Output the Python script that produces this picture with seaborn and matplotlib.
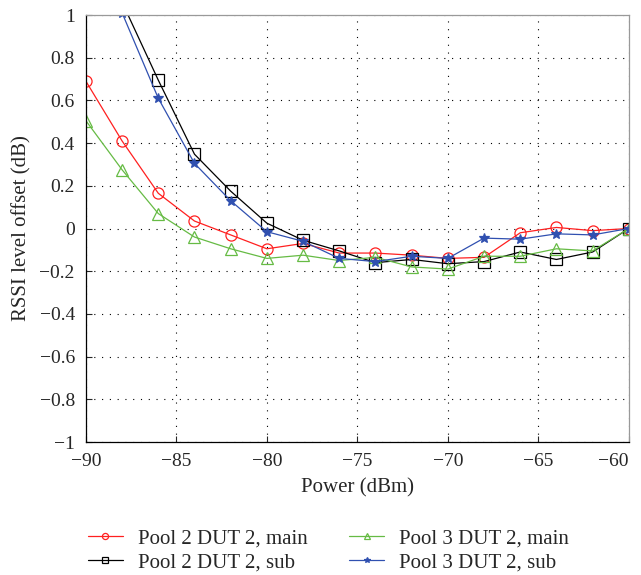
import seaborn as sns
import matplotlib.pyplot as plt
import pandas as pd

sns.set_style("ticks")
plt.rcParams['font.family'] = ['Liberation Serif', 'DejaVu Serif']

power = [-90, -88, -86, -84, -82, -80, -78, -76, -74, -72, -70, -68, -66, -64, -62, -60]

p2_main = [0.69, 0.41, 0.165, 0.035, -0.03, -0.095, -0.07, -0.115, -0.115, -0.125, -0.14,
           -0.135, -0.02, 0.005, -0.01, 0.0]
p2_sub = [1.6, 1.06, 0.695, 0.348, 0.175, 0.025, -0.055, -0.105, -0.16, -0.145, -0.165,
          -0.155, -0.11, -0.145, -0.11, 0.0]
p3_main = [0.505, 0.275, 0.07, -0.04, -0.095, -0.14, -0.125, -0.15, -0.135, -0.18, -0.19,
           -0.13, -0.13, -0.095, -0.105, 0.0]
p3_sub = [1.5, 1.01, 0.61, 0.305, 0.13, -0.015, -0.06, -0.14, -0.155, -0.13, -0.14,
          -0.045, -0.05, -0.025, -0.03, 0.0]

series = {
    "Pool 2 DUT 2, main": (p2_main, "#ff2020", "o"),
    "Pool 2 DUT 2, sub": (p2_sub, "black", "s"),
    "Pool 3 DUT 2, main": (p3_main, "#66bb44", "^"),
    "Pool 3 DUT 2, sub": (p3_sub, "#3050b0", "*"),
}

fig = plt.figure(figsize=(6.41, 5.75), dpi=100)
ax = fig.add_axes([0.134, 0.2313, 0.847, 0.7426])

for name, (vals, col, mk) in series.items():
    df = pd.DataFrame({"Power": power, "Offset": vals})
    filled = mk == "*"
    sns.lineplot(data=df, x="Power", y="Offset", ax=ax, color=col, marker=mk,
                 markersize=8 if not filled else 7, linewidth=0.9,
                 markerfacecolor=col if filled else "none",
                 markeredgecolor=col, markeredgewidth=0.9, label=name)

ax.set_xlim(-90, -60)
ax.set_ylim(-1, 1)
xt = [-90, -85, -80, -75, -70, -65, -60]
yt = [-1, -0.8, -0.6, -0.4, -0.2, 0, 0.2, 0.4, 0.6, 0.8, 1]
ax.set_xticks(xt)
ax.set_xticklabels([str(v).replace("-", "\u2212") for v in xt])
ax.get_xticklabels()[-1].set_horizontalalignment("right")
ax.set_yticks(yt)
ax.set_yticklabels([("%g" % v).replace("-", "\u2212") for v in yt])
ax.tick_params(direction="in", labelsize=14, length=4, width=0.8)
ax.tick_params(axis="x", pad=8)
ax.tick_params(axis="y", pad=8)
ax.grid(True, color="black", linestyle=(0, (1, 6)), linewidth=0.8)
for side, s in ax.spines.items():
    s.set_linewidth(0.9)
    s.set_color("black" if side in ("left", "bottom") else "#999999")
ax.set_xlabel("Power (dBm)", fontsize=15, labelpad=6)
ax.set_ylabel("RSSI level offset (dB)", fontsize=15, labelpad=6)

h, l = ax.get_legend_handles_labels()
ax.get_legend().remove()
fig.legend(h, l, ncol=2, frameon=False,
           loc="center", bbox_to_anchor=(0.512, 0.042), fontsize=15,
           markerscale=0.55, columnspacing=2.0, handlelength=1.7,
           handletextpad=0.7, labelspacing=0.2)

fig.savefig("out.png", dpi=100)
